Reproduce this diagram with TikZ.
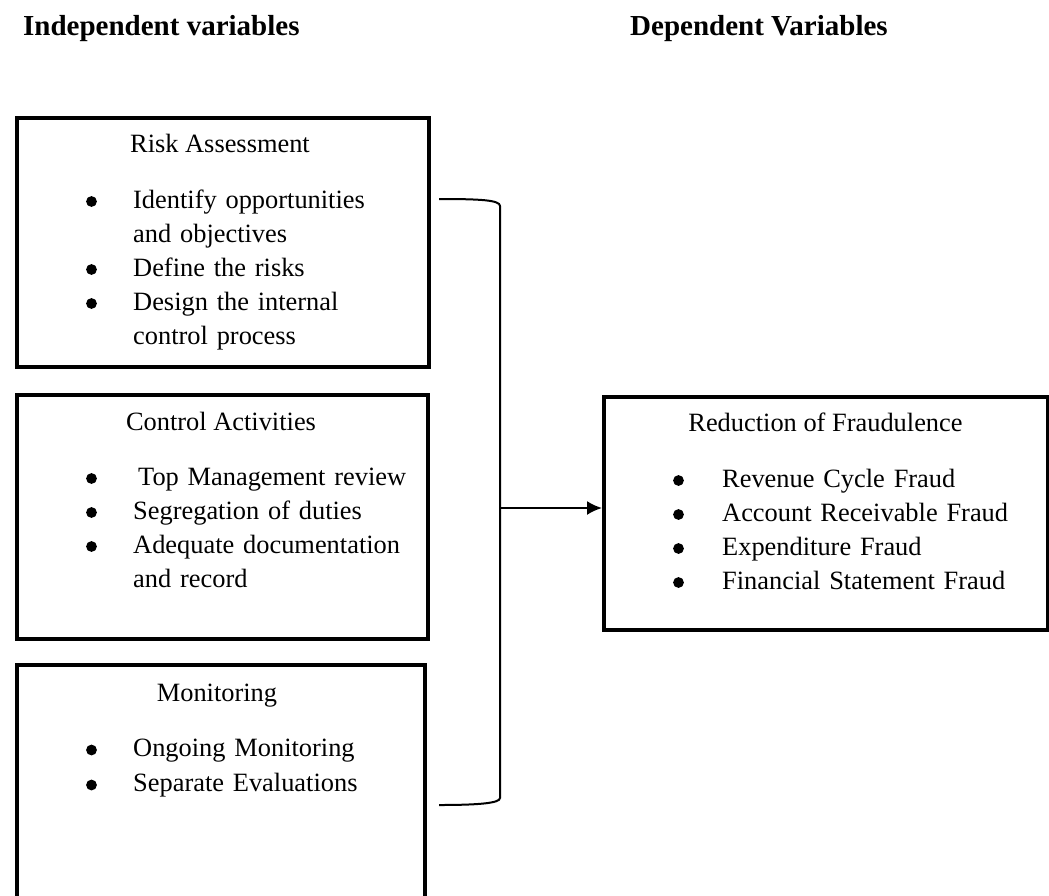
\documentclass[tikz,border=0pt]{standalone}
\usepackage{fontspec}
\setmainfont{Liberation Serif}
\usetikzlibrary{arrows.meta, positioning}

\tikzset{
  box/.style={draw, line width=4pt, inner sep=0pt, anchor=north west},
  heading/.style={inner sep=0pt, anchor=base west, font=\bfseries\fontsize{29}{34}\selectfont},
  title/.style={inner sep=0pt, anchor=base, font=\fontsize{26.4}{34}\selectfont},
  items/.style={inner sep=0pt, anchor=base west, text width=320pt, align=left, font=\fontsize{26.4}{34}\selectfont},
  dot/.style={fill=black},
  link/.style={line width=2pt}
}

\begin{document}
\begin{tikzpicture}[x=1pt, y=-1pt]
\useasboundingbox (0,0) rectangle (1049,895);
\clip (0,0) rectangle (1049,895);

% Headings
\node[heading] (indep) at (23,35) {Independent variables};
\node[heading] (dep) at (630,35) {Dependent Variables};

% Boxes on the left
\node[box, minimum width=412pt, minimum height=249pt] (risk) at (15,116) {};
\node[box, minimum width=411pt, minimum height=244pt] (control) at (15,393) {};
\node[box, minimum width=408pt, minimum height=300pt] (monitor) at (15,663) {}; % runs off the page
% Box on the right
\node[box, minimum width=444pt, minimum height=233pt] (fraud) at (602,395) {};

% Texts
\node[title] (riskT) at (220,152.7) {Risk Assessment};
\node[items] (riskL) at (133,208) {Identify opportunities\\
  and objectives\\
  Define the risks\\
  Design the internal\\
  control process};

\node[title] (controlT) at (221,430) {Control Activities};
\node[items] (controlL) at (133,485) {\hspace*{5pt}Top Management review\\
  Segregation of duties\\
  Adequate documentation\\
  and record};

\node[title] (monitorT) at (217,701.5) {Monitoring};
\node[items, font=\fontsize{26.4}{35}\selectfont] (monitorL) at (133,756.5) {Ongoing Monitoring\\
  Separate Evaluations};

\node[title] (fraudT) at (825.5,431.5) {Reduction of Fraudulence};
\node[items] (fraudL) at (722,487) {Revenue Cycle Fraud\\
  Account Receivable Fraud\\
  Expenditure Fraud\\
  Financial Statement Fraud};

% Bullets
\pgfmathsetmacro{\rdot}{5.4}
\foreach \y in {201.5, 269.5, 303.5, 478.5, 512.5, 546.5, 750, 785}
  \fill[dot] (91.5,\y) circle[radius=\rdot pt];
\foreach \y in {480.5, 514.5, 548.5, 582.5}
  \fill[dot] (678.5,\y) circle[radius=\rdot pt];

% Bracket and arrow
\coordinate (brtop) at (439,199);
\coordinate (brbot) at (439,805);
\coordinate (brmid) at (500,508);
\draw[link] (brtop) .. controls (480,199) and (500,200) .. (500,206)
  -- (500,798) .. controls (500,803) and (480,805) .. (brbot);
\draw[link, -{Latex[length=15pt, width=14pt]}] (brmid) -- (fraud.west |- brmid);

\end{tikzpicture}
\end{document}
